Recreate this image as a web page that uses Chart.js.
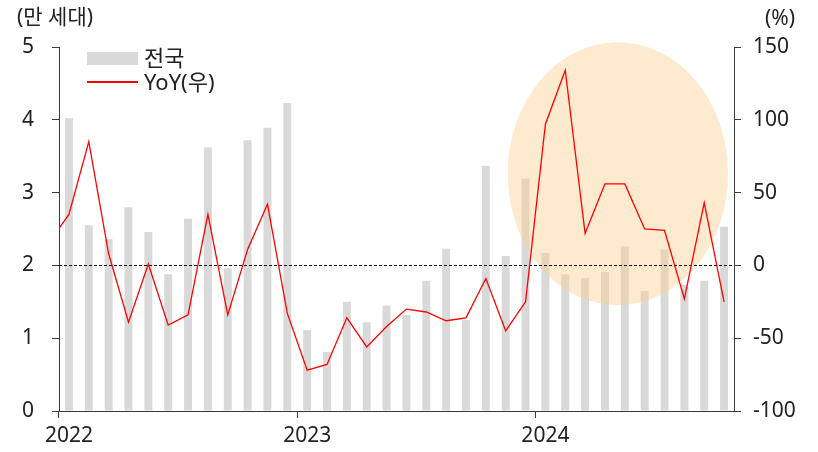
<!DOCTYPE html>
<html>
<head>
<meta charset="utf-8">
<script src="https://cdn.jsdelivr.net/npm/chart.js@4.4.1/dist/chart.umd.min.js"></script>
<style>
  html, body { margin: 0; padding: 0; background: #fff; }
  #wrap { position: relative; width: 818px; height: 452px; font-family: 'Noto Sans', 'Noto Sans CJK KR', sans-serif; color: #222; }
  #c { position: absolute; left: 0; top: 0; }
  .t { position: absolute; font-size: 21px; line-height: 1; white-space: nowrap; }
  .lg { font-size: 22px; }
  .box { position: absolute; }
</style>
</head>
<body>
<div id="wrap">
  <canvas id="c" width="818" height="452"></canvas>
  <div class="t" id="ltitle" style="left:17px; top:6px;">(만 세대)</div>
  <div class="t" id="rtitle" style="left:765px; top:7px;">(%)</div>
  <div class="box" style="left:87px; top:52px; width:51px; height:13px; background:#D9D9D9;"></div>
  <div class="t lg" style="left:144px; top:46px;">전국</div>
  <div class="box" style="left:87px; top:81px; width:51px; height:1.5px; background:#FF0000;"></div>
  <div class="t lg" style="left:144px; top:70px;">YoY(우)</div>
</div>
<script>
// Categories (monthly). The first month (2021-12) only feeds the clipped start of the YoY line.
const months = [
  '2021-12',
  '2022-01','2022-02','2022-03','2022-04','2022-05','2022-06','2022-07','2022-08','2022-09','2022-10','2022-11','2022-12',
  '2023-01','2023-02','2023-03','2023-04','2023-05','2023-06','2023-07','2023-08','2023-09','2023-10','2023-11','2023-12',
  '2024-01','2024-02','2024-03','2024-04','2024-05','2024-06','2024-07','2024-08','2024-09','2024-10'
];
// 전국 (만 세대), left axis
const units = [
  null,
  4.02, 2.55, 2.36, 2.80, 2.46, 1.88, 2.64, 3.62, 1.96, 3.72, 3.89, 4.23,
  1.11, 0.81, 1.50, 1.22, 1.45, 1.32, 1.79, 2.23, 1.25, 3.37, 2.13, 3.19,
  2.17, 1.88, 1.83, 1.91, 2.26, 1.65, 2.22, 1.73, 1.79, 2.53
];
// YoY (%), right axis
const yoy = [
  16,
  35, 85, 8, -39, 1, -41, -34, 35, -34, 11, 42, -33,
  -72, -68, -36, -56, -42, -30, -32, -38, -36, -9, -45, -25,
  97, 134, 22, 56, 56, 25, 24, -23, 43, -25
];
const leftTicks = [0, 1, 2, 3, 4, 5];
const rightTicks = [-100, -50, 0, 50, 100, 150];
// Highlight ellipse, in data units (category index, right-axis %)
const highlight = { cx: 28.65, rx: 5.55, cy: 63, ry: 90.3 };

const AXIS = '#3a3a3a';
const FONT = { family: "'Noto Sans', 'Noto Sans CJK KR', sans-serif", size: 21 };

const overlay = {
  id: 'overlay',
  beforeDatasetDraw(chart, args) {
    if (args.index !== 1) return;
    const ctx = chart.ctx;
    const x = chart.scales.x, y1 = chart.scales.y1;
    const ca = chart.chartArea;
    const cx = x.getPixelForValue(highlight.cx);
    const rx = x.getPixelForValue(highlight.cx + highlight.rx) - cx;
    const cy = y1.getPixelForValue(highlight.cy);
    const ry = cy - y1.getPixelForValue(highlight.cy + highlight.ry);
    ctx.save();
    ctx.fillStyle = 'rgba(251, 205, 140, 0.42)';
    ctx.beginPath();
    ctx.ellipse(cx, cy, rx, ry, 0, 0, Math.PI * 2);
    ctx.fill();
    const zy = Math.round(y1.getPixelForValue(0)) + 0.5;
    ctx.strokeStyle = '#000';
    ctx.lineWidth = 1;
    ctx.setLineDash([3, 2]);
    ctx.beginPath();
    ctx.moveTo(ca.left, zy);
    ctx.lineTo(ca.right, zy);
    ctx.stroke();
    ctx.restore();
  }
};

new Chart(document.getElementById('c'), {
  data: {
    labels: months,
    datasets: [
      {
        type: 'bar', label: '전국', data: units, yAxisID: 'y',
        backgroundColor: '#D9D9D9', categoryPercentage: 1, barPercentage: 0.4, order: 2
      },
      {
        type: 'line', label: 'YoY(우)', data: yoy, yAxisID: 'y1',
        borderColor: '#FF0000', borderWidth: 1.3, pointRadius: 0, tension: 0, order: 1
      }
    ]
  },
  options: {
    responsive: false,
    animation: false,
    layout: { padding: { top: 47, left: 0, right: 0, bottom: 0 } },
    plugins: { legend: { display: false }, tooltip: { enabled: false } },
    scales: {
      x: {
        type: 'category',
        min: '2022-01', max: '2024-10',
        offset: true,
        afterFit(s) { s.height = 41; },
        grid: {
          offset: true, drawOnChartArea: false, drawTicks: true, tickLength: 7, lineWidth: 1,
          color: (c) => (c.tick && months[c.tick.value] && months[c.tick.value].endsWith('-01')) ? AXIS : 'rgba(0,0,0,0)'
        },
        border: { display: true, color: AXIS, width: 1 },
        ticks: {
          autoSkip: false, maxRotation: 0, minRotation: 0, padding: 5, color: '#222', font: FONT,
          callback(v) { const m = months[v]; return m && m.endsWith('-01') ? m.slice(0, 4) : ''; }
        }
      },
      y: {
        position: 'left', min: 0, max: 5,
        afterFit(s) { s.width = 59; },
        afterBuildTicks(s) { s.ticks = leftTicks.map(v => ({ value: v })); },
        grid: { drawOnChartArea: false, drawTicks: true, tickLength: 7, color: AXIS },
        border: { display: true, color: AXIS, width: 1 },
        ticks: { padding: 18, color: '#222', font: FONT }
      },
      y1: {
        position: 'right', min: -100, max: 150,
        afterFit(s) { s.width = 84; },
        afterBuildTicks(s) { s.ticks = rightTicks.map(v => ({ value: v })); },
        grid: { drawOnChartArea: false, drawTicks: true, tickLength: 7, color: AXIS },
        border: { display: true, color: AXIS, width: 1 },
        ticks: { padding: 12, color: '#222', font: FONT }
      }
    }
  },
  plugins: [overlay]
});
</script>
</body>
</html>
